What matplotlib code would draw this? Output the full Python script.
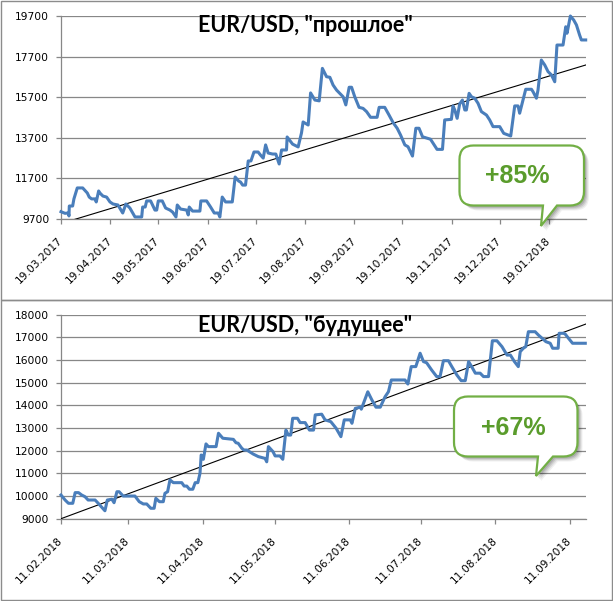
import matplotlib
matplotlib.use("Agg")
import matplotlib.pyplot as plt
from matplotlib.path import Path
from matplotlib.patches import PathPatch, Rectangle
from matplotlib.transforms import Affine2D
import pandas as pd

# ---------------- data ----------------
top_start = "2017-03-19"
top_days = [0, 2.5, 4.6, 5.0, 5.2, 7.3, 8.1, 10.2, 13.6, 16.5, 17.7, 19.2, 21.3, 22.1, 23.6, 24.4,
            26.3, 28.6, 30.7, 32.6, 35.7, 38.7, 40.7, 43.2, 46.4, 50.6, 51.2, 52.8, 53.7, 56.2,
            58.9, 60.0, 61.0, 63.5, 65.6, 68.3, 70.0, 72.1, 72.9, 75.0, 78.8, 79.8, 80.4, 82.5,
            87.1, 87.7, 91.3, 93.8, 96.1, 98.6, 99.6, 101.1, 103.2, 107.4, 109.2, 111.4, 112.6,
            113.9, 115.7, 117.4, 119.1, 121.0, 123.6, 125.1, 126.8, 128.3, 129.9, 132.7, 134.7,
            136.8, 138.3, 141.4, 141.8, 145.2, 148.7, 150.8, 151.8, 155.0, 156.5, 159.2, 161.9,
            163.9, 166.5, 168.6, 170.6, 172.8, 174.8, 176.9, 178.6, 180.7, 182.2, 184.2, 186.9,
            189.4, 191.6, 194.1, 198.2, 199.5, 203.0, 205.7, 208.3, 210.8, 212.9, 215.6, 217.6,
            220.4, 222.5, 224.5, 226.7, 229.6, 231.7, 235.8, 239.2, 240.6, 244.8, 245.8, 246.9,
            248.4, 250.0, 251.7, 253.2, 254.2, 255.9, 257.4, 259.4, 261.5, 263.6, 266.8, 268.8,
            270.9, 275.1, 277.6, 282.0, 284.5, 286.6, 287.6, 289.7, 291.4, 295.0, 296.0, 298.1,
            299.1, 301.2, 303.3, 305.4, 307.5, 309.6, 311.0, 314.8, 316.5, 317.3, 319.4, 321.5,
            323.2, 325.2, 326.3, 329.0]
top_values = [10060, 9980, 9995, 9850, 10340, 10340, 10690, 11230, 11230, 10980, 10780, 10690, 10690,
              10540, 11080, 10980, 10830, 10780, 10540, 10440, 10390, 9995, 10440, 10240, 9800, 9800,
              10290, 10290, 10590, 10590, 10140, 10140, 10590, 10590, 10240, 10140, 10040, 9800,
              10390, 10190, 10140, 9900, 10290, 10090, 10090, 10590, 10590, 10290, 9995, 9995, 9800,
              10780, 10540, 10540, 11770, 11570, 11520, 11370, 11370, 12560, 12560, 13000, 13000,
              12850, 12700, 13350, 12950, 12900, 12900, 12410, 13100, 13100, 13740, 13390, 13250,
              13940, 14480, 14330, 15910, 15560, 15520, 17120, 16710, 16680, 16300, 16050, 15890,
              15720, 15320, 16190, 16190, 15720, 15200, 15150, 14990, 14710, 14710, 15200, 15200,
              14820, 14440, 14170, 13840, 13350, 13260, 12800, 14170, 14170, 13750, 13680, 13630,
              13130, 13130, 14580, 14610, 15270, 15070, 14660, 15370, 15560, 15070, 15070, 15890,
              15720, 15650, 15400, 14990, 14820, 14580, 14250, 14250, 13920, 13790, 15270, 15270,
              14910, 15560, 16090, 16090, 15970, 15650, 16050, 17530, 17290, 16960, 16800, 16460,
              18270, 18270, 19170, 18850, 19700, 19500, 19260, 18760, 18520, 18520]
top_trend_days = [0, 329.2]
top_trend_values = [9477, 17290]
top_xmax_days = 329.2
top_ticks = ["19.03.2017", "19.04.2017", "19.05.2017", "19.06.2017", "19.07.2017", "19.08.2017",
             "19.09.2017", "19.10.2017", "19.11.2017", "19.12.2017", "19.01.2018"]
top_yticks = [9700, 11700, 13700, 15700, 17700, 19700]
top_title = 'EUR/USD, "прошлое"'
top_badge = "+85%"

bot_start = "2018-02-11"
bot_days = [0, 1.7, 3.1, 4.9, 5.9, 7.3, 8.6, 10.0, 11.3, 14.2, 15.5, 17.0, 18.3, 19.3, 21.2, 22.1,
            23.3, 24.2, 25.9, 30.8, 32.6, 34.3, 35.7, 37.4, 38.8, 39.5, 41.0, 42.6, 43.3, 44.4,
            45.4, 46.8, 50.3, 51.3, 52.4, 53.5, 54.9, 55.9, 57.0, 57.9, 58.4, 59.3, 60.4, 61.4,
            64.6, 65.6, 67.4, 71.8, 72.9, 73.8, 75.3, 76.2, 77.4, 80.1, 82.2, 85.0, 85.7, 86.4,
            88.3, 89.2, 91.2, 92.4, 93.7, 94.7, 95.7, 96.5, 98.5, 99.6, 101.7, 103.5, 105.2,
            105.9, 108.6, 110.0, 112.4, 114.6, 116.6, 118.0, 120.5, 121.2, 122.6, 124.7, 125.1,
            127.8, 129.5, 131.2, 133.0, 135.0, 136.4, 137.6, 143.3, 144.5, 145.9, 147.8, 149.6,
            151.0, 152.3, 154.4, 156.5, 157.9, 159.3, 161.4, 162.8, 164.9, 166.7, 168.4, 169.8,
            170.9, 172.6, 174.6, 176.0, 178.1, 179.7, 181.6, 183.7, 185.8, 187.2, 188.9, 190.5,
            191.3, 192.6, 193.6, 194.7, 197.5, 198.9, 200.4, 202.0, 203.8, 204.8, 207.1, 207.5,
            209.3, 210.0, 211.4, 213.1, 218.4]
bot_values = [10046, 9825, 9680, 9680, 10150, 10150, 10046, 9970, 9825, 9825, 9680, 9500, 9350, 9825,
              9860, 9705, 10190, 10190, 10000, 10000, 9750, 9650, 9650, 9460, 9460, 9900, 9750, 9750,
              10120, 10190, 10710, 10590, 10590, 10440, 10440, 10300, 10300, 10590, 10590, 11000,
              11810, 11620, 12300, 12180, 12180, 12770, 12550, 12500, 12350, 12330, 12110, 12030,
              12030, 11850, 11740, 11660, 11510, 12180, 11960, 11770, 11770, 11620, 12910, 12690,
              12690, 13430, 13430, 13240, 13240, 12910, 12910, 13580, 13610, 13360, 13280, 12990,
              12620, 13360, 13360, 13210, 13870, 13920, 13830, 14600, 14240, 13920, 13920, 14380,
              14600, 15120, 15120, 14940, 15710, 15710, 16300, 15930, 15880, 15560, 15270, 15270,
              15970, 15970, 15710, 15340, 15090, 15090, 15930, 15740, 15420, 15420, 15270, 15270,
              16850, 16850, 16590, 16220, 16220, 15930, 15710, 16370, 16520, 16590, 17250, 17250,
              17100, 16960, 16810, 16740, 16520, 16520, 17180, 17180, 17150, 16960, 16740, 16740]
bot_trend_days = [0, 218.7]
bot_trend_values = [9000, 17590]
bot_xmax_days = 218.7
bot_ticks = ["11.02.2018", "11.03.2018", "11.04.2018", "11.05.2018", "11.06.2018", "11.07.2018",
             "11.08.2018", "11.09.2018"]
bot_yticks = list(range(9000, 18001, 1000))
bot_title = 'EUR/USD, "будущее"'
bot_badge = "+67%"

# ---------------- styling ----------------
W, H = 613, 601
LINE_C = "#4A7EBB"
GRID_C = "#878787"
GREEN = "#72AF45"
GREEN_TXT = "#5A9C2C"

fig = plt.figure(figsize=(W / 100, H / 100), dpi=100)
fig.patch.set_facecolor("white")
px = Affine2D().scale(1 / W, -1 / H).translate(0, 1) + fig.transFigure


def ax_rect(l, t, r, b):
    return [l / W, 1 - b / H, (r - l) / W, (b - t) / H]


def setup(ax, start, days, values, tdays, tvals, xmax, ticks, yticks):
    s = pd.Timestamp(start)
    d = [s + pd.Timedelta(days=x) for x in days]
    td = [s + pd.Timedelta(days=x) for x in tdays]
    ax.plot(td, tvals, color="black", lw=0.8, zorder=3)
    ax.plot(d, values, color=LINE_C, lw=2.2, solid_joinstyle="round", zorder=4, clip_on=False)
    ax.set_xlim(s, s + pd.Timedelta(days=xmax))
    ax.set_ylim(yticks[0], yticks[-1])
    ax.set_yticks(yticks)
    ax.set_yticklabels([str(v) for v in yticks])
    tk = [pd.to_datetime(t, format="%d.%m.%Y") for t in ticks]
    ax.set_xticks(tk)
    ax.set_xticklabels(ticks, rotation=45, ha="right", va="center", rotation_mode="anchor")
    ax.grid(axis="y", color=GRID_C, lw=0.9)
    ax.set_axisbelow(True)
    for sp in ["top", "right"]:
        ax.spines[sp].set_visible(False)
    for sp in ["left", "bottom"]:
        ax.spines[sp].set_color(GRID_C)
        ax.spines[sp].set_linewidth(0.9)
    ax.tick_params(axis="both", colors=GRID_C, length=3.5, width=0.9, labelcolor="black",
                   labelsize=7.7)
    ax.tick_params(axis="x", pad=11)
    ax.tick_params(axis="y", pad=5)
    for lab in ax.get_xticklabels() + ax.get_yticklabels():
        lab.set_fontfamily("DejaVu Sans")


ax1 = fig.add_axes(ax_rect(61, 16, 586, 219))
setup(ax1, top_start, top_days, top_values, top_trend_days, top_trend_values, top_xmax_days,
      top_ticks, top_yticks)
ax2 = fig.add_axes(ax_rect(61, 314.7, 586, 518.7))
setup(ax2, bot_start, bot_days, bot_values, bot_trend_days, bot_trend_values, bot_xmax_days,
      bot_ticks, bot_yticks)

# titles
fig.text(305 / W, 1 - 25 / H, top_title, ha="center", va="center", fontsize=15.5,
         fontweight="bold", family="Lato")
fig.text(305.5 / W, 1 - 326 / H, bot_title, ha="center", va="center", fontsize=15.5,
         fontweight="bold", family="Lato")


def callout(L, T, R, B, r, b1, b2, tx, ty, text, tcx, tcy):
    verts = [(L + r, T), (R - r, T), (R, T), (R, T + r), (R, B - r), (R, B), (R - r, B),
             (b2, B), (tx, ty), (b1, B), (L + r, B), (L, B), (L, B - r), (L, T + r), (L, T),
             (L + r, T), (L + r, T)]
    codes = [Path.MOVETO, Path.LINETO, Path.CURVE3, Path.CURVE3, Path.LINETO, Path.CURVE3,
             Path.CURVE3, Path.LINETO, Path.LINETO, Path.LINETO, Path.LINETO, Path.CURVE3,
             Path.CURVE3, Path.LINETO, Path.CURVE3, Path.CURVE3, Path.CLOSEPOLY]
    for off, a in [(5, 0.06), (4, 0.08), (3, 0.1), (2, 0.12)]:
        sv = [(x + off, y + off) for x, y in verts]
        fig.add_artist(PathPatch(Path(sv, codes), transform=px, facecolor="black",
                                 edgecolor="none", alpha=a, zorder=9))
    fig.add_artist(PathPatch(Path(verts, codes), transform=px, facecolor="white",
                             edgecolor=GREEN, lw=1.6, zorder=10))
    fig.text(tcx / W, 1 - tcy / H, text, ha="center", va="center", fontsize=18,
             fontweight="bold", color=GREEN_TXT, family="Liberation Sans", zorder=11)


callout(459.5, 145.5, 584, 205.5, 14, 543, 557, 541, 226, top_badge, 517, 176)
callout(454, 396.5, 577.5, 456.5, 14, 538, 553, 536, 476, bot_badge, 513, 428)

# panel frames
for (l, t, r, b) in [(0.5, 0.5, 612, 300), (0.5, 300, 612, 599.5)]:
    fig.add_artist(Rectangle((l, t), r - l, b - t, transform=px, fill=False,
                             edgecolor="#8c8c8c", lw=1.0, zorder=20))

fig.savefig("out.png", dpi=100, facecolor="white")
